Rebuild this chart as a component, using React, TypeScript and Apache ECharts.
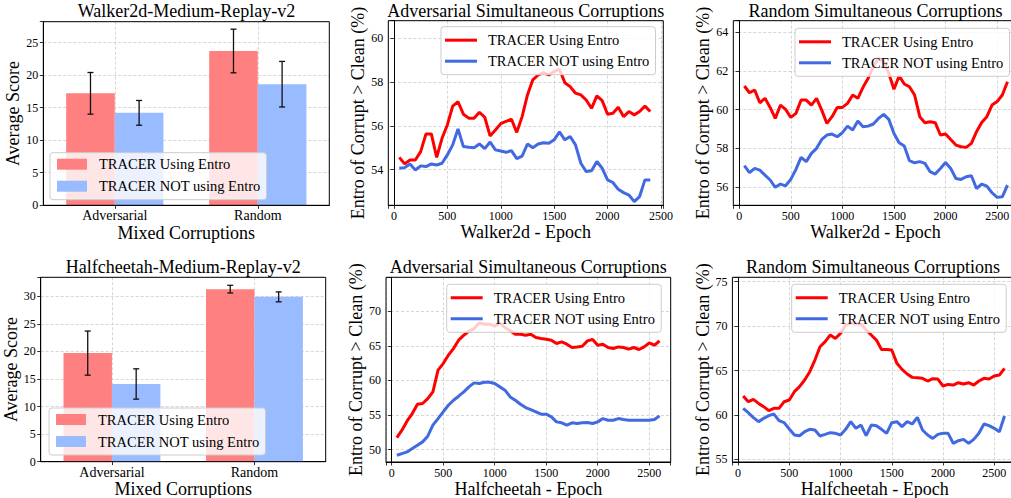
import React, { useEffect, useRef } from 'react';
import * as echarts from 'echarts';

const NAME_USING = 'TRACER Using Entro';
const NAME_NOT = 'TRACER NOT using Entro';

const barCategories = ['Adversarial', 'Random'];
const walkerBarUsing = [17.2, 23.7];
const walkerBarUsingErr = [3.2, 3.35];
const walkerBarNot = [14.2, 18.6];
const walkerBarNotErr = [1.9, 3.5];
const cheetahBarUsing = [19.7, 31.3];
const cheetahBarUsingErr = [4.0, 0.7];
const cheetahBarNot = [14.1, 29.9];
const cheetahBarNotErr = [2.75, 0.9];

const epochs2400 = [50, 100, 150, 200, 250, 300, 350, 400, 450, 500, 550, 600, 650, 700, 750, 800, 850, 900, 950, 1000, 1050, 1100, 1150, 1200, 1250, 1300, 1350, 1400, 1450, 1500, 1550, 1600, 1650, 1700, 1750, 1800, 1850, 1900, 1950, 2000, 2050, 2100, 2150, 2200, 2250, 2300, 2350, 2400];
const epochs2600 = [50, 100, 150, 200, 250, 300, 350, 400, 450, 500, 550, 600, 650, 700, 750, 800, 850, 900, 950, 1000, 1050, 1100, 1150, 1200, 1250, 1300, 1350, 1400, 1450, 1500, 1550, 1600, 1650, 1700, 1750, 1800, 1850, 1900, 1950, 2000, 2050, 2100, 2150, 2200, 2250, 2300, 2350, 2400, 2450, 2500, 2550, 2600];

const walkerAdvUsing = [54.56, 54.26, 54.44, 54.44, 54.82, 55.63, 55.63, 54.56, 55.43, 56.04, 56.9, 57.1, 56.53, 56.35, 56.35, 56.62, 56.39, 55.54, 55.81, 56.1, 56.2, 56.3, 55.7, 56.42, 57.41, 58.1, 58.32, 58.43, 58.32, 58.48, 58.58, 57.97, 57.79, 57.49, 57.41, 57.18, 56.8, 57.37, 57.15, 56.53, 56.57, 56.85, 56.42, 56.65, 56.5, 56.65, 56.9, 56.65];
const walkerAdvNot = [54.06, 54.09, 54.26, 53.98, 54.17, 54.14, 54.26, 54.21, 54.29, 54.67, 55.13, 55.86, 55.05, 55.02, 55.0, 55.17, 54.96, 55.26, 54.9, 54.85, 54.79, 54.87, 54.5, 54.62, 55.17, 55.0, 55.17, 55.23, 55.2, 55.36, 55.72, 55.36, 55.51, 55.13, 54.29, 53.91, 53.95, 54.37, 54.06, 53.53, 53.41, 53.1, 52.95, 52.84, 52.54, 52.77, 53.53, 53.53];
const walkerRandUsing = [61.22, 60.87, 61.01, 60.35, 60.58, 60.11, 59.54, 60.23, 60.01, 59.59, 59.8, 60.49, 60.49, 60.23, 60.58, 59.97, 59.28, 59.63, 60.11, 60.11, 60.32, 60.75, 60.58, 61.15, 61.62, 62.22, 62.65, 62.48, 61.87, 61.05, 61.74, 61.32, 61.18, 60.75, 59.63, 59.32, 59.37, 59.32, 58.68, 58.73, 58.45, 58.16, 58.07, 58.04, 58.25, 58.85, 59.33, 59.63, 60.23, 60.41, 60.75, 61.44];
const walkerRandNot = [57.09, 56.73, 56.95, 56.86, 56.6, 56.35, 55.97, 56.14, 56.05, 56.38, 56.9, 57.52, 57.3, 57.73, 57.99, 58.45, 58.68, 58.73, 58.59, 58.8, 59.14, 58.94, 59.4, 59.11, 59.14, 59.25, 59.54, 59.75, 59.49, 58.76, 58.28, 58.11, 57.35, 57.24, 57.3, 57.21, 56.78, 56.66, 56.95, 57.26, 56.95, 56.43, 56.38, 56.52, 56.57, 55.91, 56.14, 56.03, 55.69, 55.45, 55.48, 56.09];
const cheetahAdvUsing = [51.73, 52.8, 54.14, 55.2, 56.55, 56.65, 57.37, 58.34, 61.47, 62.43, 63.64, 64.6, 65.81, 66.53, 67.11, 67.49, 68.31, 68.12, 68.12, 67.83, 68.31, 67.64, 67.16, 66.67, 66.67, 66.53, 66.67, 66.19, 66.05, 65.95, 65.81, 65.33, 65.57, 65.23, 64.75, 64.84, 64.94, 65.71, 65.9, 65.08, 65.23, 64.75, 64.6, 64.84, 64.75, 64.51, 64.75, 64.46, 64.84, 65.42, 65.08, 65.71];
const cheetahAdvNot = [49.18, 49.42, 49.66, 50.14, 50.63, 51.11, 51.93, 53.52, 54.48, 55.45, 56.41, 57.13, 57.71, 58.34, 59.06, 59.64, 59.54, 59.73, 59.73, 59.54, 59.06, 58.58, 57.61, 57.13, 56.55, 56.07, 55.78, 55.45, 55.11, 55.11, 54.72, 54.0, 53.86, 53.52, 53.86, 53.76, 53.86, 53.9, 53.76, 54.0, 54.48, 54.24, 54.24, 54.48, 54.34, 54.24, 54.24, 54.24, 54.24, 54.24, 54.34, 54.87];
const cheetahRandUsing = [62.13, 61.49, 61.75, 61.3, 60.93, 60.48, 60.74, 60.74, 61.49, 61.68, 62.62, 63.18, 63.93, 64.87, 66.18, 67.68, 68.25, 69.0, 68.62, 69.18, 70.12, 70.38, 70.23, 70.23, 69.56, 69.0, 68.43, 67.38, 67.38, 67.31, 65.81, 65.13, 64.61, 64.23, 64.19, 64.12, 63.82, 64.08, 64.04, 63.26, 63.44, 63.37, 63.63, 63.48, 63.63, 63.37, 63.82, 64.12, 64.04, 64.38, 64.49, 65.24];
const cheetahRandNot = [60.74, 60.25, 59.69, 59.24, 59.62, 59.92, 60.1, 59.35, 59.13, 58.41, 57.74, 57.66, 58.11, 58.38, 58.3, 57.63, 57.81, 58.0, 57.93, 57.74, 58.38, 59.24, 58.49, 58.86, 57.66, 58.86, 58.79, 58.38, 57.93, 59.13, 59.24, 58.68, 59.24, 58.98, 59.73, 58.3, 57.74, 57.36, 57.81, 57.93, 57.93, 56.8, 57.1, 57.25, 56.8, 57.25, 57.93, 58.98, 58.79, 58.49, 58.11, 59.88];

const FONT = "'Liberation Serif', 'Times New Roman', serif";
const BAR_RED = '#ff8080';
const BAR_BLUE = '#99bbff';
const LINE_RED = '#ff0000';
const LINE_BLUE = '#4169e1';

const zip = (xs: number[], ys: number[]) => xs.map((x, i) => [x, ys[i]]);

const gridLine = { show: true, lineStyle: { color: '#cccccc', type: [3, 2], width: 0.8 } };
const axisLine = { show: true, lineStyle: { color: '#000', width: 1 } };
const axisTick = { show: true, inside: false, length: 3.5, lineStyle: { color: '#000', width: 0.8 } };
const nameStyle = { fontFamily: FONT, fontSize: 18, color: '#000' };

const multipleFmt = (step: number) => (v: number) => {
  const r = Math.round(v);
  if (Math.abs(v - r) > 1e-6) return '';
  return r % step === 0 ? String(r) : '';
};

function barX(gridIndex: number, nameGap: number) {
  return {
    type: 'category', gridIndex, data: barCategories,
    axisLine, axisTick: { ...axisTick, alignWithLabel: true },
    axisLabel: { color: '#000', fontFamily: FONT, fontSize: 14, lineHeight: 13, margin: 4, interval: 0 },
    splitLine: { ...gridLine, alignWithLabel: true },
    name: 'Mixed Corruptions', nameLocation: 'middle', nameGap, nameTextStyle: nameStyle,
  };
}
function barY(gridIndex: number, max: number) {
  return {
    type: 'value', gridIndex, min: 0, max, interval: 5,
    axisLine, axisTick,
    axisLabel: { color: '#000', fontFamily: FONT, fontSize: 12, margin: 5, formatter: multipleFmt(5), showMaxLabel: true },
    splitLine: gridLine,
    name: 'Average Score', nameLocation: 'middle', nameGap: 19, nameTextStyle: nameStyle,
  };
}
function lineX(gridIndex: number, min: number, max: number, name: string) {
  return {
    type: 'value', gridIndex, min, max, splitNumber: 5,
    axisLine, axisTick,
    axisLabel: { color: '#000', fontFamily: FONT, fontSize: 12, margin: 5, formatter: multipleFmt(500) },
    splitLine: gridLine,
    name, nameLocation: 'middle', nameGap: 16, nameTextStyle: nameStyle,
  };
}
function lineY(gridIndex: number, min: number, max: number, step: number) {
  return {
    type: 'value', gridIndex, min, max, splitNumber: 5,
    axisLine, axisTick,
    axisLabel: { color: '#000', fontFamily: FONT, fontSize: 12, margin: 5, formatter: multipleFmt(step) },
    splitLine: gridLine,
    name: 'Entro of Corrupt > Clean (%)', nameLocation: 'middle', nameGap: 20, nameTextStyle: nameStyle,
  };
}

const legendBase = {
  orient: 'vertical', selectedMode: false,
  backgroundColor: 'rgba(255,255,255,0.8)', borderColor: '#cccccc', borderWidth: 1, borderRadius: 3,
};
function barLegend(left: number, top: number) {
  return {
    ...legendBase, left, top, padding: [4, 6, 6, 7], itemGap: 7, itemWidth: 30, itemHeight: 11,
    textStyle: { fontFamily: FONT, fontSize: 14.5, color: '#000', padding: [0, 0, 0, 7] },
    data: [
      { name: NAME_USING, icon: 'rect', itemStyle: { color: BAR_RED, borderWidth: 0 } },
      { name: NAME_NOT, icon: 'rect', itemStyle: { color: BAR_BLUE, borderWidth: 0 } },
    ],
  };
}
function lineLegend(left: number, top: number) {
  return {
    ...legendBase, left, top, padding: [6, 6, 6, 4], itemGap: 6, itemWidth: 32, itemHeight: 3,
    textStyle: { fontFamily: FONT, fontSize: 14.5, color: '#000', padding: [0, 0, 0, 6] },
    data: [
      { name: NAME_USING, icon: 'rect', itemStyle: { color: LINE_RED, borderWidth: 0 } },
      { name: NAME_NOT, icon: 'rect', itemStyle: { color: LINE_BLUE, borderWidth: 0 } },
    ],
  };
}

function barSeries(axis: number, name: string, data: number[], color: string) {
  return {
    type: 'bar', name, xAxisIndex: axis, yAxisIndex: axis, data,
    barWidth: '34%', barGap: '0%', itemStyle: { color }, z: 2,
  };
}
function errSeries(axis: number, means: number[], errs: number[], side: number) {
  return {
    type: 'custom', name: 'err' + axis + side, xAxisIndex: axis, yAxisIndex: axis,
    data: means.map((m, i) => [i, m - errs[i], m + errs[i]]),
    encode: { x: 0, y: [1, 2] }, z: 5, silent: true,
    renderItem: (params: any, api: any) => {
      const idx = api.value(0);
      const lo = api.coord([idx, api.value(1)]);
      const hi = api.coord([idx, api.value(2)]);
      const band = api.size([1, 0])[0];
      const x = lo[0] + side * band * 0.17;
      const cap = 3;
      const style = { stroke: '#111', lineWidth: 1.3 };
      return {
        type: 'group',
        children: [
          { type: 'line', shape: { x1: x, y1: lo[1], x2: x, y2: hi[1] }, style },
          { type: 'line', shape: { x1: x - cap, y1: lo[1], x2: x + cap, y2: lo[1] }, style },
          { type: 'line', shape: { x1: x - cap, y1: hi[1], x2: x + cap, y2: hi[1] }, style },
        ],
      };
    },
  };
}
function lineSeries(axis: number, name: string, xs: number[], ys: number[], color: string) {
  return {
    type: 'line', name, xAxisIndex: axis, yAxisIndex: axis, data: zip(xs, ys),
    symbol: 'none', showSymbol: false, lineStyle: { color, width: 3 }, itemStyle: { color }, z: 3,
  };
}

function titleAt(text: string, left: number, top: number) {
  return { text, left, top, textAlign: 'center', padding: 0, textStyle: { fontFamily: FONT, fontSize: 18, fontWeight: 'normal', color: '#000' } };
}

export default function App() {
  const ref = useRef<HTMLDivElement>(null);
  useEffect(() => {
    if (!ref.current) return;
    const chart = echarts.init(ref.current, null, { renderer: 'svg' });
    const g = (left: number, top: number, width: number, height: number) => ({
      left, top, width, height, show: true, borderColor: '#000', borderWidth: 1, backgroundColor: 'transparent', outerBoundsMode: 'none', z: 4,
    });
    const option: any = {
      animation: false,
      backgroundColor: '#fff',
      textStyle: { fontFamily: FONT },
      title: [
        titleAt('Walker2d-Medium-Replay-v2', 186.4, 2),
        titleAt('Adversarial Simultaneous Corruptions', 525.8, 2),
        titleAt('Random Simultaneous Corruptions', 875.6, 2),
        titleAt('Halfcheetah-Medium-Replay-v2', 183.3, 258),
        titleAt('Adversarial Simultaneous Corruptions', 528.3, 258),
        titleAt('Random Simultaneous Corruptions', 873, 258),
      ],
      grid: [
        g(43.3, 21.7, 286, 183.6),
        g(388.3, 20.7, 275, 184.6),
        g(733.3, 20.7, 284.5, 184.6),
        g(40.7, 277.3, 285, 184.4),
        g(386, 277.3, 284.7, 184.7),
        g(732.4, 277.3, 284.7, 184.7),
      ],
      xAxis: [
        barX(0, 16),
        lineX(1, -53, 2522, 'Walker2d - Epoch'),
        lineX(2, -57, 2700, 'Walker2d - Epoch'),
        barX(3, 15),
        lineX(4, -55, 2708, 'Halfcheetah - Epoch'),
        lineX(5, -55, 2723, 'Halfcheetah - Epoch'),
      ],
      yAxis: [
        barY(0, 28.2),
        lineY(1, 52.37, 60.8, 2),
        lineY(2, 55.04, 64.6, 2),
        barY(3, 33.45),
        lineY(4, 48.2, 74.9, 5),
        lineY(5, 54.7, 75.5, 5),
      ],
      legend: [
        barLegend(50, 152.7),
        lineLegend(441, 26.7),
        lineLegend(795, 28.3),
        barLegend(49, 408),
        lineLegend(446.7, 284.3),
        lineLegend(791.7, 284.3),
      ],
      series: [
        barSeries(0, NAME_USING, walkerBarUsing, BAR_RED),
        barSeries(0, NAME_NOT, walkerBarNot, BAR_BLUE),
        errSeries(0, walkerBarUsing, walkerBarUsingErr, -1),
        errSeries(0, walkerBarNot, walkerBarNotErr, 1),
        barSeries(3, NAME_USING, cheetahBarUsing, BAR_RED),
        barSeries(3, NAME_NOT, cheetahBarNot, BAR_BLUE),
        errSeries(3, cheetahBarUsing, cheetahBarUsingErr, -1),
        errSeries(3, cheetahBarNot, cheetahBarNotErr, 1),
        lineSeries(1, NAME_USING, epochs2400, walkerAdvUsing, LINE_RED),
        lineSeries(1, NAME_NOT, epochs2400, walkerAdvNot, LINE_BLUE),
        lineSeries(2, NAME_USING, epochs2600, walkerRandUsing, LINE_RED),
        lineSeries(2, NAME_NOT, epochs2600, walkerRandNot, LINE_BLUE),
        lineSeries(4, NAME_USING, epochs2600, cheetahAdvUsing, LINE_RED),
        lineSeries(4, NAME_NOT, epochs2600, cheetahAdvNot, LINE_BLUE),
        lineSeries(5, NAME_USING, epochs2600, cheetahRandUsing, LINE_RED),
        lineSeries(5, NAME_NOT, epochs2600, cheetahRandNot, LINE_BLUE),
      ],
    };
    chart.setOption(option);
    return () => chart.dispose();
  }, []);
  return <div ref={ref} style={{ position: 'absolute', left: 0, top: 0, width: 1011, height: 498, background: '#fff' }} />;
}
